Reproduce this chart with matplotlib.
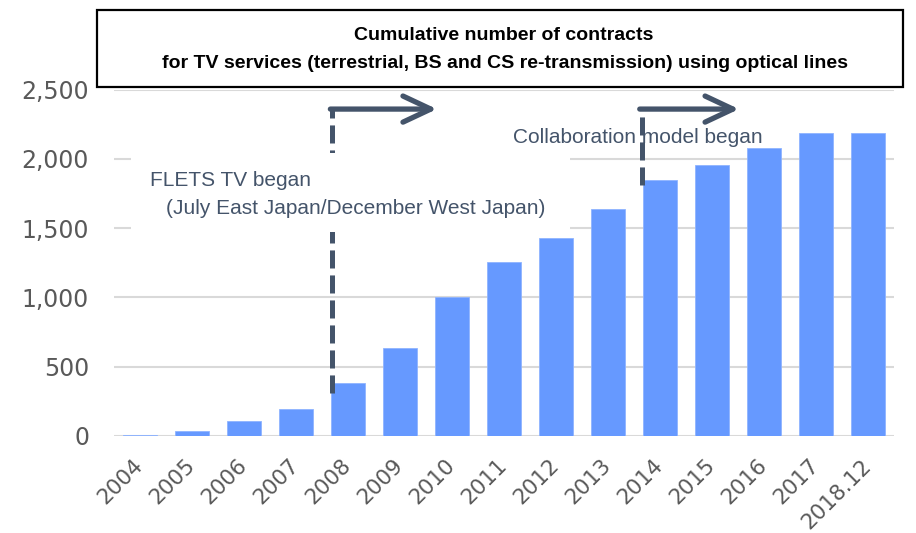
import matplotlib
matplotlib.use("Agg")
from matplotlib import pyplot as plt, patches

years = ["2004", "2005", "2006", "2007", "2008", "2009", "2010", "2011",
         "2012", "2013", "2014", "2015", "2016", "2017", "2018.12"]
contracts = [7, 36, 106, 193, 380, 637, 1000, 1257, 1430, 1635, 1846, 1955,
             2075, 2185, 2190]
y_ticks = [0, 500, 1000, 1500, 2000, 2500]

title_lines = ["Cumulative number of contracts",
               "for TV services (terrestrial, BS and CS re-transmission) using optical lines"]
flets_lines = ["FLETS TV began", "(July East Japan/December West Japan)"]
collab_note = "Collaboration model began"

BAR = "#6699FF"
DARK = "#44546A"
GRID = "#D9D9D9"
NARROW = ["Liberation Sans", "DejaVu Sans"]

plt.rcParams["lines.scale_dashes"] = False

fig = plt.figure(figsize=(9.16, 5.33), dpi=100)
ax = fig.add_axes([0.1245, 0.182, 0.8515, 0.650])

x = list(range(len(years)))
ax.bar(x, contracts, width=0.67, color=BAR, edgecolor="#8FB4FF", linewidth=0.6, zorder=2)

ax.set_xlim(-0.5, len(years) - 0.5)
ax.set_ylim(0, 2500)
ax.set_yticks(y_ticks)
ax.set_yticklabels([f"{v:,}" for v in y_ticks])
ax.yaxis.grid(True, color=GRID, lw=1.5, zorder=0)
ax.set_axisbelow(True)
for s in ax.spines.values():
    s.set_visible(False)
ax.tick_params(length=0, labelcolor="#595959")
ax.tick_params(axis="y", labelsize=17, pad=18)
ax.set_xticks(x)
ax.set_xticklabels(years, rotation=45, ha="right", va="center",
                   rotation_mode="anchor", fontsize=15.5)
ax.tick_params(axis="x", pad=19)

# event markers: dashed drop line + arrow pointing right
top = 2359
events = [(4 - 0.30, 310, 5.71), (10 - 0.35, 1810, 11.52)]
for x0, bottom, x1 in events:
    ax.plot([x0, x0], [bottom, top], color=DARK, lw=3.6, ls=(0, (13, 5)),
            solid_capstyle="butt", zorder=3)
    ax.annotate("", xy=(x1, top), xytext=(x0 - 0.04, top),
                arrowprops=dict(arrowstyle="->,head_length=1.0,head_width=0.47",
                                mutation_scale=20, lw=3.8, color=DARK,
                                shrinkA=0, shrinkB=0, capstyle="round"),
                zorder=3)

# white patch behind first note
ax.add_patch(patches.Rectangle((-0.17, 1471), 8.44, 570, facecolor="white",
                               edgecolor="none", zorder=4))
ax.text(0.19, 1846, flets_lines[0], fontsize=15, color=DARK, family=NARROW,
        va="center", ha="left", zorder=5)
ax.text(0.50, 1645, flets_lines[1], fontsize=15, color=DARK, family=NARROW,
        va="center", ha="left", zorder=5)
ax.text(7.17, 2157, collab_note, fontsize=15, color=DARK, family=NARROW,
        va="center", ha="left", zorder=2.5)

# title box
fig.patches.append(patches.Rectangle((0.1059, 0.8368), 0.8799, 0.1444,
                                     transform=fig.transFigure, facecolor="white",
                                     edgecolor="black", lw=1.6, zorder=5))
fig.text(0.5497, 0.934, title_lines[0], ha="center", va="center", fontsize=14,
         fontweight="bold", family=NARROW, zorder=6)
fig.text(0.551, 0.880, title_lines[1], ha="center", va="center", fontsize=14,
         fontweight="bold", family=NARROW, zorder=6)

fig.savefig("out.png", dpi=100)
